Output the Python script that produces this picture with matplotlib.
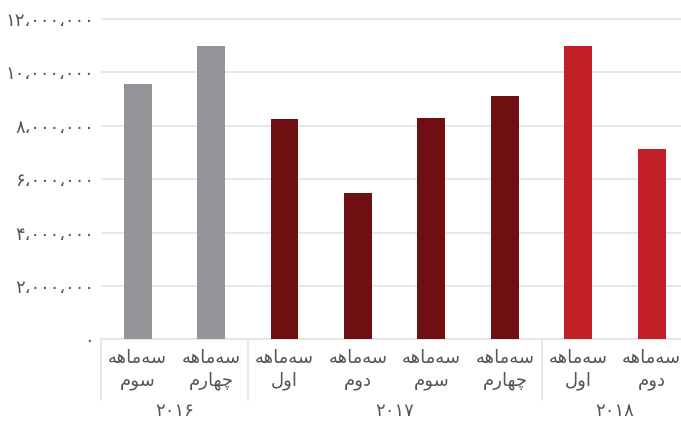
import matplotlib
matplotlib.use("Agg")
import matplotlib.pyplot as plt
import matplotlib.transforms as mtransforms
from matplotlib.ticker import FuncFormatter

# data
quarters = ["سه\u200cماهه سوم", "سه\u200cماهه چهارم",
            "سه\u200cماهه اول", "سه\u200cماهه دوم", "سه\u200cماهه سوم", "سه\u200cماهه چهارم",
            "سه\u200cماهه اول", "سه\u200cماهه دوم"]
values = [9560000, 11000000, 8240000, 5470000, 8280000, 9110000, 11000000, 7130000]
years = ["۲۰۱۶", "۲۰۱۷", "۲۰۱۸"]
year_sizes = [2, 4, 2]
year_colors = ["#949598", "#700f12", "#c21f28"]
yticks = [0, 2000000, 4000000, 6000000, 8000000, 10000000, 12000000]

# minimal arabic shaping (matplotlib has no bidi / joining)
DUAL = {"س": "\ufeb1\ufeb2\ufeb3\ufeb4", "ه": "\ufee9\ufeea\ufeeb\ufeec",
        "م": "\ufee1\ufee2\ufee3\ufee4", "ل": "\ufedd\ufede\ufedf\ufee0",
        "چ": "\ufb7a\ufb7b\ufb7c\ufb7d"}
RIGHT = {"ا": "\ufe8d\ufe8e", "و": "\ufeed\ufeee", "ر": "\ufead\ufeae", "د": "\ufea9\ufeaa"}


def shape(word):
    out = []
    for i, c in enumerate(word):
        prev = word[i - 1] if i > 0 else ""
        nxt = word[i + 1] if i + 1 < len(word) else ""
        jp = prev in DUAL and (c in DUAL or c in RIGHT)
        jn = c in DUAL and (nxt in DUAL or nxt in RIGHT)
        if c in DUAL:
            f = DUAL[c]
            out.append(f[3] if jp and jn else f[1] if jp else f[2] if jn else f[0])
        elif c in RIGHT:
            out.append(RIGHT[c][1] if jp else RIGHT[c][0])
        elif c != "\u200c":
            out.append(c)
    return "".join(reversed(out))


def label(q):
    words = q.split(" ")
    return "\n".join(shape(w) for w in words)


fa_digits = str.maketrans("0123456789,", "۰۱۲۳۴۵۶۷۸۹،")

plt.rcParams["font.family"] = ["DejaVu Sans"]

fig = plt.figure(figsize=(6.81, 4.24), dpi=100)
ax = fig.add_axes([0.1483, 0.1998, 0.8517, 0.768])

colors = []
for c, n in zip(year_colors, year_sizes):
    colors += [c] * n
x = list(range(len(values)))
ax.bar(x, values, width=0.38, color=colors, zorder=3)

ax.set_xlim(-0.5, 7.4)
ax.set_ylim(0, 12200000)
ax.set_yticks(yticks)
ax.yaxis.set_major_formatter(FuncFormatter(lambda v, p: f"{int(v):,}".translate(fa_digits)))
ax.grid(axis="y", color="#e4e4e4", linewidth=1.2, zorder=0)
for s in ["top", "right", "left"]:
    ax.spines[s].set_visible(False)
ax.spines["bottom"].set_color("#e4e4e4")
ax.spines["bottom"].set_linewidth(1.2)
ax.tick_params(axis="y", length=0, pad=5, labelsize=13, labelcolor="#555555")
ax.tick_params(axis="x", length=0, pad=7, labelsize=13, labelcolor="#555555")
ax.set_xticks(x)
ax.set_xticklabels([label(q) for q in quarters], linespacing=1.35, multialignment="center")

trans = mtransforms.blended_transform_factory(ax.transData, ax.transAxes)
start = 0
for yr, n in zip(years, year_sizes):
    ax.plot([start - 0.5, start - 0.5], [0, -0.186], transform=trans, color="#e4e4e4",
            linewidth=1.2, clip_on=False)
    ax.text(start + (n - 1) / 2, -0.22, yr, transform=trans, ha="center", va="center",
            fontsize=13, color="#555555")
    start += n

fig.savefig("out.png", dpi=100)
